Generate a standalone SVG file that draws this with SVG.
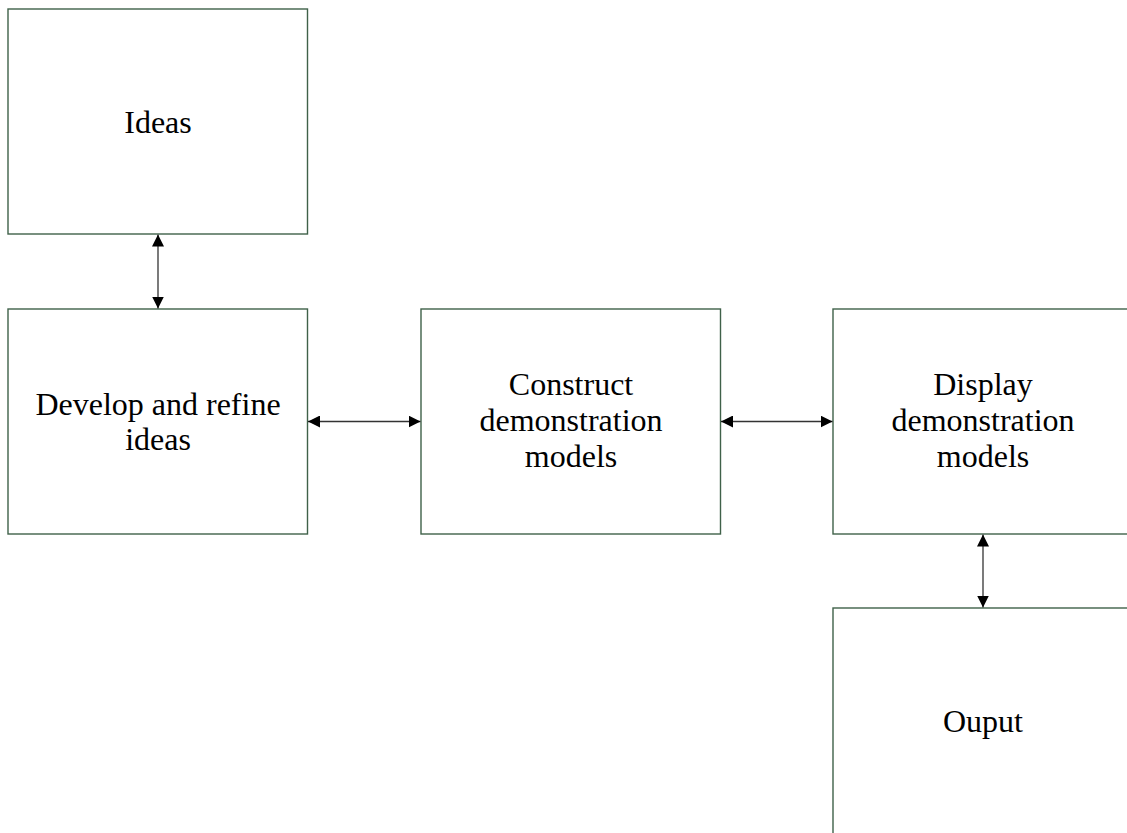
<svg xmlns="http://www.w3.org/2000/svg" width="1127" height="833" viewBox="0 0 1127 833">
<style>
.box{fill:#fff;stroke:#3f6149;stroke-width:1.4}
.lbl{font-family:"Liberation Serif","Times New Roman",serif;font-size:32px;fill:#000;text-anchor:middle}
.con{stroke:#333;stroke-width:1.3;fill:none;marker-start:url(#ah);marker-end:url(#ah)}
</style>
<defs>
<marker id="ah" viewBox="0 0 12 12" refX="12" refY="6" markerWidth="12" markerHeight="12" markerUnits="userSpaceOnUse" orient="auto-start-reverse">
<path d="M0,0 L12,6 L0,12 Z" fill="#000"/>
</marker>
</defs>
<rect width="1127" height="833" fill="#fff"/>
<g id="ideas"><rect class="box" x="8" y="9" width="299.5" height="225"/><text class="lbl" x="158" y="133">Ideas</text></g>
<g id="develop"><rect class="box" x="8" y="309" width="299.5" height="225"/><text class="lbl" x="158" y="415">Develop and refine</text><text class="lbl" x="158" y="450">ideas</text></g>
<g id="construct"><rect class="box" x="421" y="309" width="299.5" height="225"/><text class="lbl" x="571" y="395">Construct</text><text class="lbl" x="571" y="431">demonstration</text><text class="lbl" x="571" y="467">models</text></g>
<g id="display"><rect class="box" x="833" y="309" width="300" height="225"/><text class="lbl" x="983" y="395">Display</text><text class="lbl" x="983" y="431">demonstration</text><text class="lbl" x="983" y="467">models</text></g>
<g id="output"><rect class="box" x="833" y="608" width="300" height="230"/><text class="lbl" x="983" y="732">Ouput</text></g>
<g id="connectors">
<line class="con" x1="158" y1="234.5" x2="158" y2="308.5"/>
<line class="con" x1="308" y1="421.5" x2="420.5" y2="421.5"/>
<line class="con" x1="721" y1="421.5" x2="832.5" y2="421.5"/>
<line class="con" x1="983" y1="534.5" x2="983" y2="607.5"/>
</g>
</svg>
